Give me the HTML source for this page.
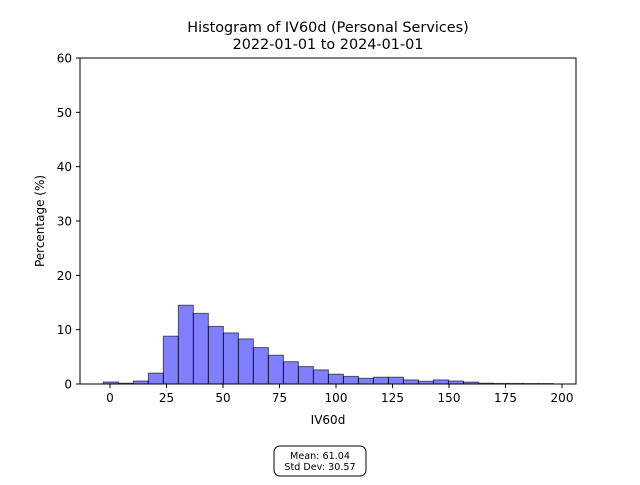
<!DOCTYPE html>
<html><head><meta charset="utf-8"><style>
body{margin:0;background:#fff}
svg text{font-family:"DejaVu Sans","Liberation Sans",sans-serif;fill:#000}
</style></head><body>
<svg id="c" width="640" height="480" viewBox="0 0 640 480" xmlns="http://www.w3.org/2000/svg">
<rect width="640" height="480" fill="#fff"/>
<text x="328" y="32" font-size="14.4" text-anchor="middle">Histogram of IV60d (Personal Services)</text>
<text x="328" y="49" font-size="14.4" text-anchor="middle">2022-01-01 to 2024-01-01</text>
<g id="bars"></g>
<rect x="80" y="58" width="496" height="326" fill="none" stroke="#000" stroke-width="1"/>
<g id="xt"></g>
<g id="yt"></g>
<text x="328" y="424" font-size="12" text-anchor="middle">IV60d</text>
<text transform="translate(44,221) rotate(-90)" font-size="12" text-anchor="middle">Percentage (%)</text>
<g>
<rect x="274" y="446" width="92" height="30" rx="6" fill="#fff" stroke="#000" stroke-width="1"/>
<text x="320" y="459" font-size="9.6" text-anchor="middle">Mean: 61.04</text>
<text x="320" y="470" font-size="9.6" text-anchor="middle">Std Dev: 30.57</text>
</g>
</svg>
<script>
const binStart = -2.96;
const binWidth = 6.64;
const values = [0.37,0.15,0.55,2.0,8.8,14.5,13.0,10.6,9.4,8.3,6.7,5.3,4.1,3.2,2.6,1.8,1.4,1.05,1.25,1.25,0.75,0.5,0.75,0.55,0.35,0.15,0.1,0.1,0.08,0.08];
const xTicks = [0,25,50,75,100,125,150,175,200];
const yTicks = [0,10,20,30,40,50,60];
const NS='http://www.w3.org/2000/svg';
function xs(v){return 110+v*2.26;}
function ys(v){return 384-v*326/60;}
const bars=document.getElementById('bars');
values.forEach((v,i)=>{
  const r=document.createElementNS(NS,'rect');
  const x0=xs(binStart+i*binWidth), x1=xs(binStart+(i+1)*binWidth);
  r.setAttribute('x',x0);r.setAttribute('y',ys(v));
  r.setAttribute('width',x1-x0);r.setAttribute('height',384-ys(v));
  r.setAttribute('fill','rgba(0,0,255,0.5)');r.setAttribute('stroke','rgba(0,0,0,0.6)');r.setAttribute('stroke-width','1');
  
  
  bars.appendChild(r);
});
const xt=document.getElementById('xt');
xTicks.forEach(t=>{
  const l=document.createElementNS(NS,'line');
  l.setAttribute('x1',xs(t));l.setAttribute('x2',xs(t));l.setAttribute('y1',384);l.setAttribute('y2',388);l.setAttribute('stroke','#000');
  
  
  xt.appendChild(l);
  const tx=document.createElementNS(NS,'text');
  tx.setAttribute('x',xs(t));tx.setAttribute('y',402);tx.setAttribute('font-size','12');tx.setAttribute('text-anchor','middle');
  tx.textContent=t;
  
  
  xt.appendChild(tx);
});
const yt=document.getElementById('yt');
yTicks.forEach(t=>{
  const l=document.createElementNS(NS,'line');
  l.setAttribute('x1',76);l.setAttribute('x2',80);l.setAttribute('y1',ys(t));l.setAttribute('y2',ys(t));l.setAttribute('stroke','#000');
  
  
  yt.appendChild(l);
  const tx=document.createElementNS(NS,'text');
  tx.setAttribute('x',72);tx.setAttribute('y',ys(t)+4.5);tx.setAttribute('font-size','12');tx.setAttribute('text-anchor','end');
  tx.textContent=t;
  
  
  yt.appendChild(tx);
});
</script>
</body></html>
